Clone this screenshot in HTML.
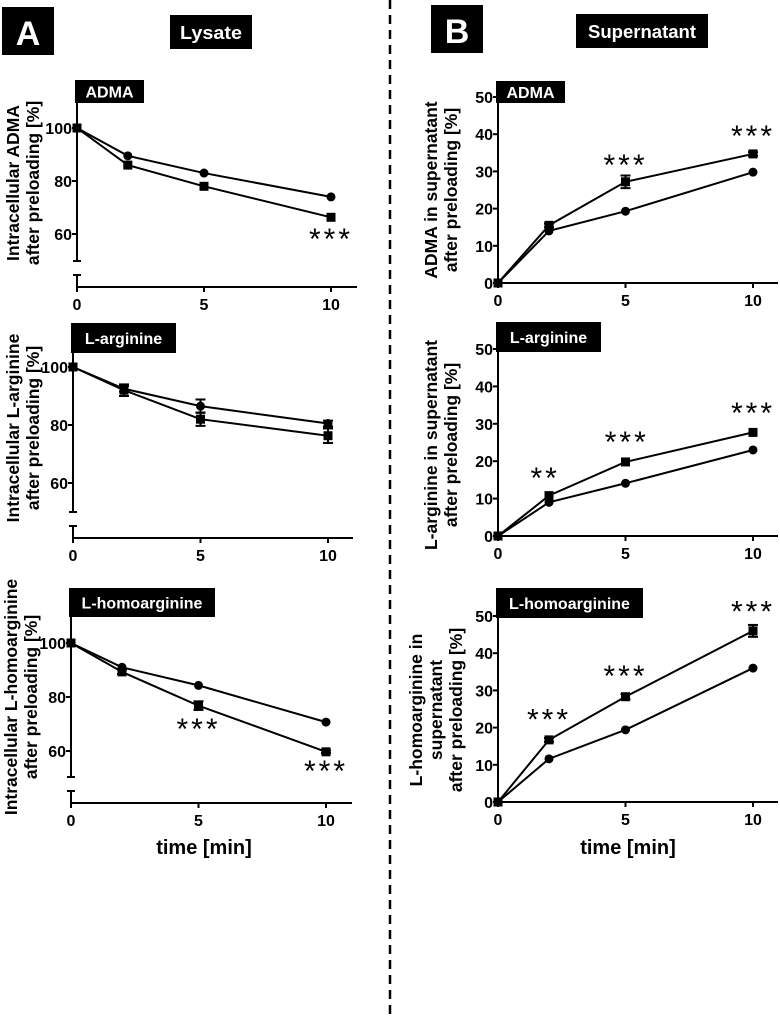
<!DOCTYPE html>
<html><head><meta charset="utf-8"><style>
html,body{margin:0;padding:0;background:#fff}
svg{display:block;font-family:"Liberation Sans",Arial,sans-serif}
</style></head><body>
<svg id="fig" width="780" height="1019" viewBox="0 0 780 1019" xmlns="http://www.w3.org/2000/svg">
<line x1="390" y1="0" x2="390" y2="1019" stroke="#000" stroke-width="2.5" stroke-dasharray="9,6"/>
<g><rect x="2" y="7" width="52" height="48" fill="#000"/><text x="28" y="45" font-size="34" font-weight="bold" fill="#fff" text-anchor="middle">A</text></g>
<g><rect x="170" y="15" width="82" height="34" fill="#000"/><text x="211" y="39" font-size="18" font-weight="bold" fill="#fff" text-anchor="middle" textLength="62" lengthAdjust="spacingAndGlyphs">Lysate</text></g>
<g><rect x="431" y="5" width="52" height="48" fill="#000"/><text x="457" y="43" font-size="34" font-weight="bold" fill="#fff" text-anchor="middle">B</text></g>
<g><rect x="576" y="14" width="132" height="34" fill="#000"/><text x="642" y="38" font-size="18" font-weight="bold" fill="#fff" text-anchor="middle" textLength="108" lengthAdjust="spacingAndGlyphs">Supernatant</text></g>
</svg>
<script>
// ---- data ----
const timePoints = [0, 2, 5, 10];
const xTicks = [0, 5, 10];
const leftTicks = [60, 80, 100];
const rightTicks = [0, 10, 20, 30, 40, 50];
const lysAdmaCircle = [100, 89.5, 83, 74];
const lysAdmaSquare = [100, 86, 78, 66.3];
const lysArgCircle = [100, 92.5, 86.5, 80.5];
const lysArgSquare = [100, 92, 82, 76.3];
const lysArgCircleErr = [0, 1, 2.3, 1];
const lysArgSquareErr = [0, 2, 2.3, 2.5];
const lysHomCircle = [100, 91, 84.3, 70.7];
const lysHomSquare = [100, 89.3, 76.8, 59.7];
const lysHomSquareErr = [0, 0.8, 1.6, 0.5];
const supAdmaCircle = [0, 14, 19.3, 29.8];
const supAdmaSquare = [0, 15.5, 27.2, 34.7];
const supAdmaSquareErr = [0, 0.5, 1.7, 0.5];
const supArgCircle = [0, 9, 14.1, 23];
const supArgSquare = [0, 10.8, 19.8, 27.7];
const supHomCircle = [0, 11.6, 19.4, 36];
const supHomSquare = [0, 16.7, 28.3, 46];
const supHomSquareErr = [0, 0.5, 0.7, 1.6];
const lysAdmaStars = [[10, 59.3, '***']];
const lysArgStars = [];
const lysHomStars = [[5, 69.2, '***'], [10, 53.7, '***']];
const supAdmaStars = [[5, 32.5, '***'], [10, 40.3, '***']];
const supArgStars = [[1.85, 16.3, '**'], [5.05, 26, '***'], [10, 33.7, '***']];
const supHomStars = [[2, 23, '***'], [5, 34.7, '***'], [10, 52, '***']];

const NS = 'http://www.w3.org/2000/svg';
const svg = document.getElementById('fig');
function mk(tag, attrs, parent, txt) {
  const e = document.createElementNS(NS, tag);
  for (const k in attrs) e.setAttribute(k, attrs[k]);
  if (txt !== undefined) e.textContent = txt;
  parent.appendChild(e);
  return e;
}

function panel(cfg) {
  const g = mk('g', {}, svg);
  
  
  const xs = v => cfg.x0 + (cfg.x10 - cfg.x0) * v / 10;
  const ys = v => cfg.ya + (cfg.yb - cfg.ya) * (v - cfg.va) / (cfg.vb - cfg.va);
  const ax = cfg.x0;
  const axes = mk('g', { stroke: '#000', 'stroke-width': 2, fill: 'none' }, g);
  
  
  if (cfg.broken) {
    mk('line', { x1: ax, y1: cfg.boxY, x2: ax, y2: cfg.breakLow }, axes);
    mk('line', { x1: ax - 4, y1: cfg.breakLow, x2: ax + 4, y2: cfg.breakLow }, axes);
    mk('line', { x1: ax, y1: cfg.breakHigh, x2: ax, y2: cfg.xAxisY }, axes);
    mk('line', { x1: ax - 4, y1: cfg.breakHigh, x2: ax + 4, y2: cfg.breakHigh }, axes);
  } else {
    mk('line', { x1: ax, y1: cfg.boxY, x2: ax, y2: cfg.xAxisY }, axes);
  }
  mk('line', { x1: ax - 1, y1: cfg.xAxisY, x2: cfg.xEnd, y2: cfg.xAxisY }, axes);
  cfg.yTicks.forEach(t => {
    const y = ys(t);
    mk('line', { x1: ax - 5, y1: y, x2: ax, y2: y, stroke: '#000', 'stroke-width': 2 }, g);
    const tl = mk('text', { x: ax - 5, y: y + 6, 'font-size': 16, 'font-weight': 'bold', 'text-anchor': 'end' }, g, String(t));
    
    
  });
  xTicks.forEach(t => {
    const x = xs(t);
    mk('line', { x1: x, y1: cfg.xAxisY, x2: x, y2: cfg.xAxisY + 5, stroke: '#000', 'stroke-width': 2 }, g);
    const tl = mk('text', { x: x, y: cfg.xAxisY + 23, 'font-size': 16, 'font-weight': 'bold', 'text-anchor': 'middle' }, g, String(t));
    
    
  });
  const bg = mk('g', {}, g);
  
  
  mk('rect', { x: cfg.x0 - 2, y: cfg.boxY, width: cfg.boxW, height: cfg.boxH, fill: '#000' }, bg);
  mk('text', { x: cfg.x0 - 2 + cfg.boxW / 2, y: cfg.boxY + cfg.boxH / 2 + 6, 'font-size': 16, 'font-weight': 'bold', fill: '#fff', 'text-anchor': 'middle' }, bg, cfg.label);
  const yt = mk('text', { transform: 'translate(' + cfg.titleX + ',' + cfg.titleY + ') rotate(-90)', 'font-size': 17.5, 'font-weight': 'bold', 'text-anchor': 'middle' }, g);
  
  
  const n = cfg.title.length;
  cfg.title.forEach((line, i) => {
    mk('tspan', { x: 0, y: (i - (n - 1) / 2) * 20 + 6 }, yt, line);
  });
  const series = [[cfg.circ, cfg.circErr, 'circle'], [cfg.sq, cfg.sqErr, 'square']];
  series.forEach(([vals, errs, shape]) => {
    const sg = mk('g', {}, g);
    
    
    const pts = vals.map((v, i) => xs(timePoints[i]) + ',' + ys(v)).join(' ');
    mk('polyline', { points: pts, fill: 'none', stroke: '#000', 'stroke-width': 2 }, sg);
    vals.forEach((v, i) => {
      const cx = xs(timePoints[i]), cy = ys(v);
      const e = errs ? errs[i] : 0;
      if (e > 0.3) {
        const y1 = ys(v + e), y2 = ys(v - e);
        mk('line', { x1: cx, y1: y1, x2: cx, y2: y2, stroke: '#000', 'stroke-width': 2 }, sg);
        mk('line', { x1: cx - 5, y1: y1, x2: cx + 5, y2: y1, stroke: '#000', 'stroke-width': 2 }, sg);
        mk('line', { x1: cx - 5, y1: y2, x2: cx + 5, y2: y2, stroke: '#000', 'stroke-width': 2 }, sg);
      }
      let m;
      if (shape === 'circle') m = mk('circle', { cx: cx, cy: cy, r: 4.5, fill: '#000' }, sg);
      else m = mk('rect', { x: cx - 4.5, y: cy - 4.5, width: 9, height: 9, fill: '#000' }, sg);
      
      
    });
  });
  cfg.stars.forEach(s => {
    const st = mk('text', { x: xs(s[0]), y: ys(s[1]) + 13, 'font-size': 30, 'text-anchor': 'middle', 'letter-spacing': 3 }, g, s[2]);
    
    
  });
}

panel({ name: 'lysate-adma-chart', label: 'ADMA', x0: 77, x10: 331, xEnd: 357, ya: 128, va: 100, yb: 234, vb: 60,
  broken: true, breakLow: 261, breakHigh: 275, xAxisY: 287, boxY: 80, boxW: 69, boxH: 23, yTicks: leftTicks,
  title: ['Intracellular ADMA', 'after preloading [%]'], titleX: 23, titleY: 183,
  circ: lysAdmaCircle, sq: lysAdmaSquare, stars: lysAdmaStars });
panel({ name: 'lysate-l-arginine-chart', label: 'L-arginine', x0: 73, x10: 328, xEnd: 353, ya: 367, va: 100, yb: 483, vb: 60,
  broken: true, breakLow: 512, breakHigh: 526, xAxisY: 538, boxY: 323, boxW: 105, boxH: 30, yTicks: leftTicks,
  title: ['Intracellular L-arginine', 'after preloading [%]'], titleX: 23, titleY: 428,
  circ: lysArgCircle, circErr: lysArgCircleErr, sq: lysArgSquare, sqErr: lysArgSquareErr, stars: lysArgStars });
panel({ name: 'lysate-l-homoarginine-chart', label: 'L-homoarginine', x0: 71, x10: 326, xEnd: 352, ya: 643, va: 100, yb: 751, vb: 60,
  broken: true, breakLow: 777, breakHigh: 791, xAxisY: 803, boxY: 588, boxW: 146, boxH: 29, yTicks: leftTicks,
  title: ['Intracellular L-homoarginine', 'after preloading [%]'], titleX: 21, titleY: 697,
  circ: lysHomCircle, sq: lysHomSquare, sqErr: lysHomSquareErr, stars: lysHomStars });
panel({ name: 'supernatant-adma-chart', label: 'ADMA', x0: 498, x10: 753, xEnd: 778, ya: 283, va: 0, yb: 97, vb: 50,
  broken: false, xAxisY: 283, boxY: 81, boxW: 69, boxH: 22, yTicks: rightTicks,
  title: ['ADMA in supernatant', 'after preloading [%]'], titleX: 441, titleY: 190,
  circ: supAdmaCircle, sq: supAdmaSquare, sqErr: supAdmaSquareErr, stars: supAdmaStars });
panel({ name: 'supernatant-l-arginine-chart', label: 'L-arginine', x0: 498, x10: 753, xEnd: 778, ya: 536, va: 0, yb: 349, vb: 50,
  broken: false, xAxisY: 536, boxY: 322, boxW: 105, boxH: 30, yTicks: rightTicks,
  title: ['L-arginine in supernatant', 'after preloading [%]'], titleX: 441, titleY: 445,
  circ: supArgCircle, sq: supArgSquare, stars: supArgStars });
panel({ name: 'supernatant-l-homoarginine-chart', label: 'L-homoarginine', x0: 498, x10: 753, xEnd: 778, ya: 802, va: 0, yb: 616, vb: 50,
  broken: false, xAxisY: 802, boxY: 588, boxW: 147, boxH: 30, yTicks: rightTicks,
  title: ['L-homoarginine in', 'supernatant', 'after preloading [%]'], titleX: 436, titleY: 710,
  circ: supHomCircle, sq: supHomSquare, sqErr: supHomSquareErr, stars: supHomStars });

const t1 = mk('text', { x: 204, y: 854, 'font-size': 20, 'font-weight': 'bold', 'text-anchor': 'middle' }, svg, 'time [min]');


const t2 = mk('text', { x: 628, y: 854, 'font-size': 20, 'font-weight': 'bold', 'text-anchor': 'middle' }, svg, 'time [min]');


</script>
</body></html>
